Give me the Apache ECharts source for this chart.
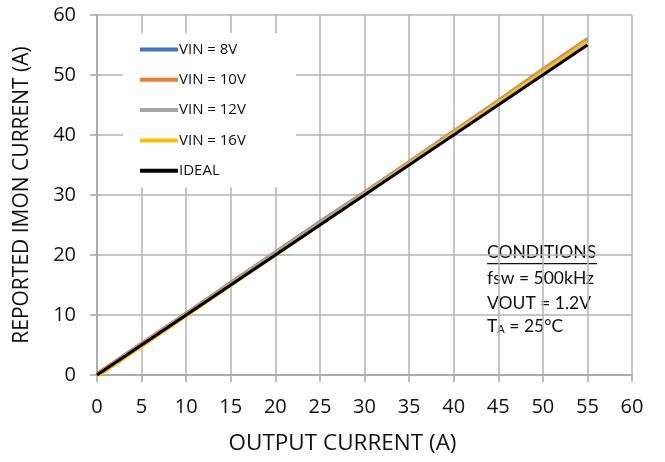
<!DOCTYPE html>
<html>
<head>
<meta charset="utf-8">
<script src="https://cdn.jsdelivr.net/npm/echarts@6/dist/echarts.min.js"></script>
<style>html,body{margin:0;padding:0;background:#fff;}#c{width:665px;height:462px;}</style>
</head>
<body>
<div id="c"></div>
<script>
const xValues = [0, 5, 10, 15, 20, 25, 30, 35, 40, 45, 50, 55];
const vin8 = [0.2, 5.3, 10.3, 15.4, 20.5, 25.6, 30.5, 35.5, 40.5, 45.6, 50.7, 55.8];
const vin10 = [0.2, 5.3, 10.3, 15.4, 20.5, 25.5, 30.5, 35.6, 40.7, 45.8, 51.0, 56.1];
const vin12 = [0.1, 5.2, 10.2, 15.3, 20.4, 25.4, 30.4, 35.5, 40.6, 45.7, 50.8, 55.9];
const vin16 = [-0.3, 4.7, 9.8, 14.9, 19.9, 25.0, 30.1, 35.2, 40.3, 45.4, 50.5, 55.6];
const ideal = [0, 5, 10, 15, 20, 25, 30, 35, 40, 45, 50, 55];
const seriesNames = ['VIN = 8V', 'VIN = 10V', 'VIN = 12V', 'VIN = 16V', 'IDEAL'];
const seriesColors = ['#4472C4', '#ED7D31', '#A5A5A5', '#FFC000', '#000000'];
const seriesData = [vin8, vin10, vin12, vin16, ideal];

const chart = echarts.init(document.getElementById('c'));
const font = '"Open Sans", "Noto Sans", sans-serif';
const cfont = 'Lato, "Open Sans", sans-serif';
const axisCommon = {
  min: 0,
  axisLine: { show: true, lineStyle: { color: '#a6a6a6', width: 1.5 } },
  axisTick: { show: true, inside: false, length: 7, lineStyle: { color: '#a6a6a6', width: 1.5 } },
  splitLine: { show: true, lineStyle: { color: '#b3b3b3', width: 1.5 } },
  axisLabel: { color: '#111', fontSize: 20, fontFamily: font },
  nameTextStyle: { color: '#111', fontSize: 21, fontFamily: font }
};
chart.setOption({
  animation: false,
  grid: { left: 97, right: 33, top: 15, bottom: 87 },
  xAxis: Object.assign({}, axisCommon, {
    type: 'value', max: 60, interval: 5,
    name: 'OUTPUT CURRENT (A)', nameLocation: 'middle', nameGap: 57,
    nameTextStyle: Object.assign({}, axisCommon.nameTextStyle, { fontSize: 22.5, padding: [0, 44, 0, 0] }),
    axisLabel: Object.assign({}, axisCommon.axisLabel, { margin: 22 })
  }),
  yAxis: Object.assign({}, axisCommon, {
    type: 'value', max: 60, interval: 10,
    name: 'REPORTED IMON CURRENT (A)', nameLocation: 'middle', nameGap: 64,
    axisLabel: Object.assign({}, axisCommon.axisLabel, { margin: 21 })
  }),
  legend: {
    orient: 'vertical', left: 123, top: 33,
    backgroundColor: '#fff',
    padding: [9, 50, 9, 17],
    itemWidth: 38, itemHeight: 4, itemGap: 15.3,
    icon: 'rect',
    textStyle: { fontSize: 15, color: '#111', fontFamily: font, padding: [0, 0, 0, -4] },
    data: seriesNames
  },
  series: seriesNames.map((n, i) => ({
    name: n, type: 'line', showSymbol: false, symbol: 'none',
    data: xValues.map((x, j) => [x, seriesData[i][j]]),
    lineStyle: { color: seriesColors[i], width: 3 },
    itemStyle: { color: seriesColors[i] },
    z: 2 + i
  })),
  graphic: [
    { type: 'text', left: 487, top: 243, style: { text: 'CONDITIONS', fontSize: 17.5, fontFamily: cfont, fill: '#111' } },
    { type: 'rect', shape: { x: 487, y: 263, width: 110, height: 1.3 }, style: { fill: '#111' } },
    { type: 'text', left: 487, top: 269, style: { text: 'fsw = 500kHz', fontSize: 17.5, fontFamily: cfont, fill: '#111' } },
    { type: 'text', left: 487, top: 294, style: { text: 'VOUT = 1.2V', fontSize: 17.5, fontFamily: cfont, fill: '#111' } },
    { type: 'text', left: 487, top: 317, style: {
      text: '{t|T}{s|A}{t| = 25°C}',
      rich: {
        t: { fontSize: 17.5, fontFamily: cfont, fill: '#111', verticalAlign: 'bottom' },
        s: { fontSize: 11, fontFamily: cfont, fill: '#111', padding: [9, 0, 0, 0], verticalAlign: 'bottom' }
      }
    } }
  ]
});
</script>
</body>
</html>
